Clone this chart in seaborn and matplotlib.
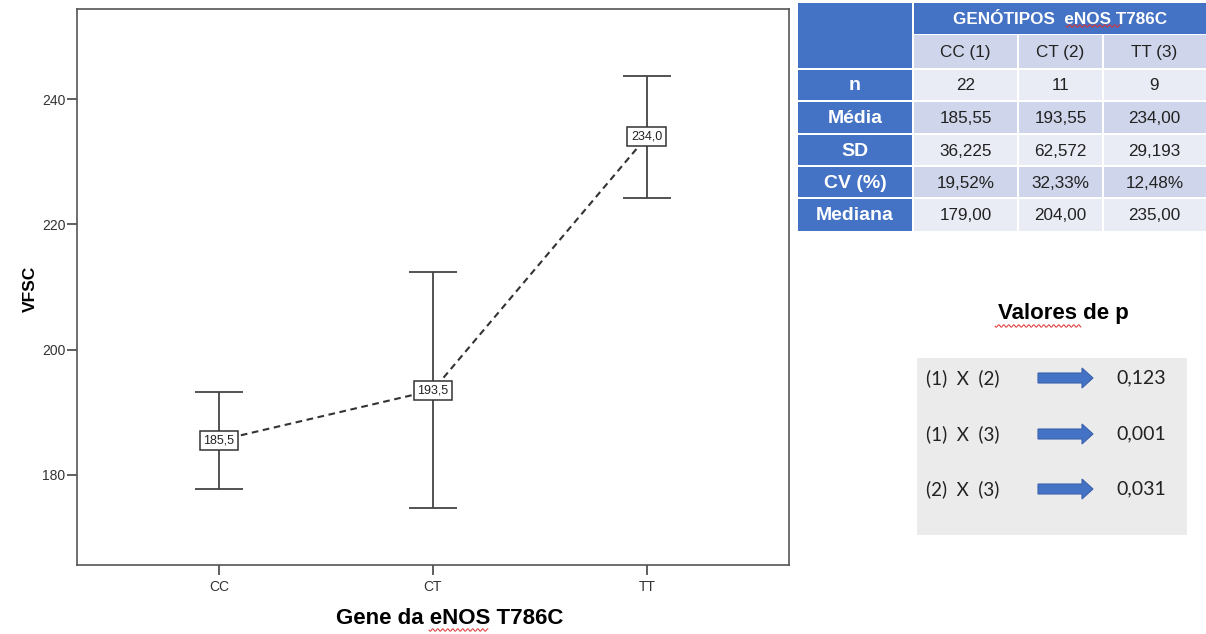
import numpy as np
import pandas as pd
import matplotlib
matplotlib.use("Agg")
import matplotlib.pyplot as plt
import seaborn as sns
from matplotlib.patches import Rectangle, Polygon

# ---- data -------------------------------------------------------------
genotipos = ["CC", "CT", "TT"]
medias = [185.5, 193.5, 234.0]          # group means shown on the chart
n_amostra = [22, 11, 9]
media_tab = [185.55, 193.55, 234.00]
desvio_padrao = [36.225, 62.572, 29.193]
cv_pct = [19.52, 32.33, 12.48]
mediana = [179.00, 204.00, 235.00]
colunas_tab = ["CC (1)", "CT (2)", "TT (3)"]
linhas_tab = ["n", "Média", "SD", "CV (%)", "Mediana"]
comparacoes = ["(1)  X  (2)", "(1)  X  (3)", "(2)  X  (3)"]
valores_p = [0.123, 0.001, 0.031]
yticks = [180, 200, 220, 240]

# standard error of the mean for the error bars
erro_padrao = [sd / np.sqrt(n) for sd, n in zip(desvio_padrao, n_amostra)]


def br(v, nd):
    return f"{v:.{nd}f}".replace(".", ",")


# ---- style ------------------------------------------------------------
sns.set_style("white")
plt.rcParams["font.family"] = ["Liberation Sans", "DejaVu Sans"]

W, H = 1206, 634
fig = plt.figure(figsize=(W / 100, H / 100), dpi=100)
fig.patch.set_facecolor("white")

ax_l, ax_r, ax_t, ax_b = 76.7, 789, 9, 565
ax = fig.add_axes([ax_l / W, 1 - ax_b / H, (ax_r - ax_l) / W, (ax_b - ax_t) / H])

df = pd.DataFrame({"pos": np.arange(len(genotipos)), "VFSC": medias, "EP": erro_padrao})

sns.lineplot(data=df, x="pos", y="VFSC", ax=ax, color="#333333", linewidth=1.5,
             linestyle=(0, (3.2, 2.2)), estimator=None, sort=False)

ax.errorbar(df["pos"], df["VFSC"], yerr=df["EP"], fmt="none", ecolor="#444444",
            elinewidth=1.3, capsize=17, capthick=1.3, zorder=3)

for x, m in zip(df["pos"], df["VFSC"]):
    ax.text(x, m, br(m, 1), ha="center", va="center", fontsize=9, color="#222222",
            zorder=6,
            bbox=dict(boxstyle="square,pad=0.3", fc="white", ec="#333333", lw=1.1))

ax.set_xlim(-0.665, 2.665)
ax.set_ylim(165.6, 254.4)
ax.set_xticks(df["pos"], genotipos)
ax.set_yticks(yticks, [str(t) for t in yticks])
ax.tick_params(axis="both", which="major", direction="out", length=7, width=1.2,
               color="#444444", labelsize=10, labelcolor="#333333",
               bottom=True, left=True, top=False, right=False)
ax.tick_params(axis="y", pad=1)
ax.tick_params(axis="x", pad=4)
for s in ax.spines.values():
    s.set_visible(True)
    s.set_color("#555555")
    s.set_linewidth(1.2)

ax.set_xlabel("Gene da eNOS T786C", fontsize=16, fontweight="bold", color="black")
ax.xaxis.set_label_coords((450 - ax_l) / (ax_r - ax_l), -(608 - ax_b) / (ax_b - ax_t))
ax.set_ylabel("VFSC", fontsize=12.5, fontweight="bold", color="black")
ax.yaxis.set_label_coords(-(ax_l - 38) / (ax_r - ax_l), 0.496)

# ---- overlay in pixel coordinates for the table and p-value panel ------
ov = fig.add_axes([0, 0, 1, 1])
ov.set_xlim(0, W)
ov.set_ylim(H, 0)
ov.axis("off")
ov.patch.set_alpha(0)

AZUL = "#4472C4"
CLARO = "#E9EBF5"
ESCURO = "#CFD5EA"


def celula(x0, x1, y0, y1, cor, g=1.0):
    ov.add_patch(Rectangle((x0 + g, y0 + g), x1 - x0 - 2 * g, y1 - y0 - 2 * g,
                           fc=cor, ec="none"))


col_x = [797, 913, 1018, 1103, 1212]
row_y = [2, 34, 69, 101, 134, 166, 198, 232]

# header
celula(col_x[0], col_x[1], row_y[0], row_y[2], AZUL)
celula(col_x[1], col_x[4], row_y[0], row_y[1], AZUL, g=0.5)
ov.text((col_x[1] + col_x[4] - 6) / 2 + 1, (row_y[0] + row_y[1]) / 2 + 1,
        "GENÓTIPOS  eNOS T786C", ha="center", va="center", fontsize=12.3,
        fontweight="bold", color="white")
for j, c in enumerate(colunas_tab):
    celula(col_x[j + 1], col_x[j + 2], row_y[1], row_y[2], ESCURO)
    ov.text((col_x[j + 1] + min(col_x[j + 2], 1206)) / 2, (row_y[1] + row_y[2]) / 2 + 1,
            c, ha="center", va="center", fontsize=12.3, color="#222222")

valores = [
    [str(v) for v in n_amostra],
    [br(v, 2) for v in media_tab],
    [br(v, 3) for v in desvio_padrao],
    [br(v, 2) + "%" for v in cv_pct],
    [br(v, 2) for v in mediana],
]
for i, (rot, linha) in enumerate(zip(linhas_tab, valores)):
    y0, y1 = row_y[i + 2], row_y[i + 3]
    yc = (y0 + y1) / 2 + 1
    celula(col_x[0], col_x[1], y0, y1, AZUL)
    ov.text((col_x[0] + col_x[1]) / 2, yc, rot, ha="center", va="center",
            fontsize=14, fontweight="bold", color="white")
    cor = CLARO if i % 2 == 0 else ESCURO
    for j, v in enumerate(linha):
        celula(col_x[j + 1], col_x[j + 2], y0, y1, cor)
        ov.text((col_x[j + 1] + min(col_x[j + 2], 1206)) / 2, yc, v,
                ha="center", va="center", fontsize=12.3, color="#222222")

# p-value panel
ov.text(1063, 314, "Valores de p", ha="center", va="center", fontsize=16,
        fontweight="bold", color="black")
ov.add_patch(Rectangle((917, 358), 270, 177, fc="#EBEBEB", ec="none"))
ys = [378, 434, 489]
for comp, p, yc in zip(comparacoes, valores_p, ys):
    ov.text(926, yc, comp, ha="left", va="center", fontsize=13.5, color="#222222",
            family=["Lato", "DejaVu Sans"])
    ov.text(1141, yc, br(p, 3), ha="center", va="center", fontsize=14,
            color="#222222", family=["Lato", "DejaVu Sans"])
    seta = Polygon([(1038, yc - 5), (1082, yc - 5), (1082, yc - 10), (1093, yc),
                    (1082, yc + 10), (1082, yc + 5), (1038, yc + 5)],
                   closed=True, fc=AZUL, ec="#3A62AE", lw=0.8)
    ov.add_patch(seta)


# spell-check squiggles under a few words
def ondulado(x0, x1, y):
    xs = np.linspace(x0, x1, 200)
    ov.plot(xs, y + 1.2 * np.sin((xs - x0) * 2 * np.pi / 5), color="#E03030", lw=0.7)


ondulado(429, 488, 630)
ondulado(1066, 1120, 26)
ondulado(995, 1081, 326)

fig.savefig("out.png", dpi=100, facecolor="white")
